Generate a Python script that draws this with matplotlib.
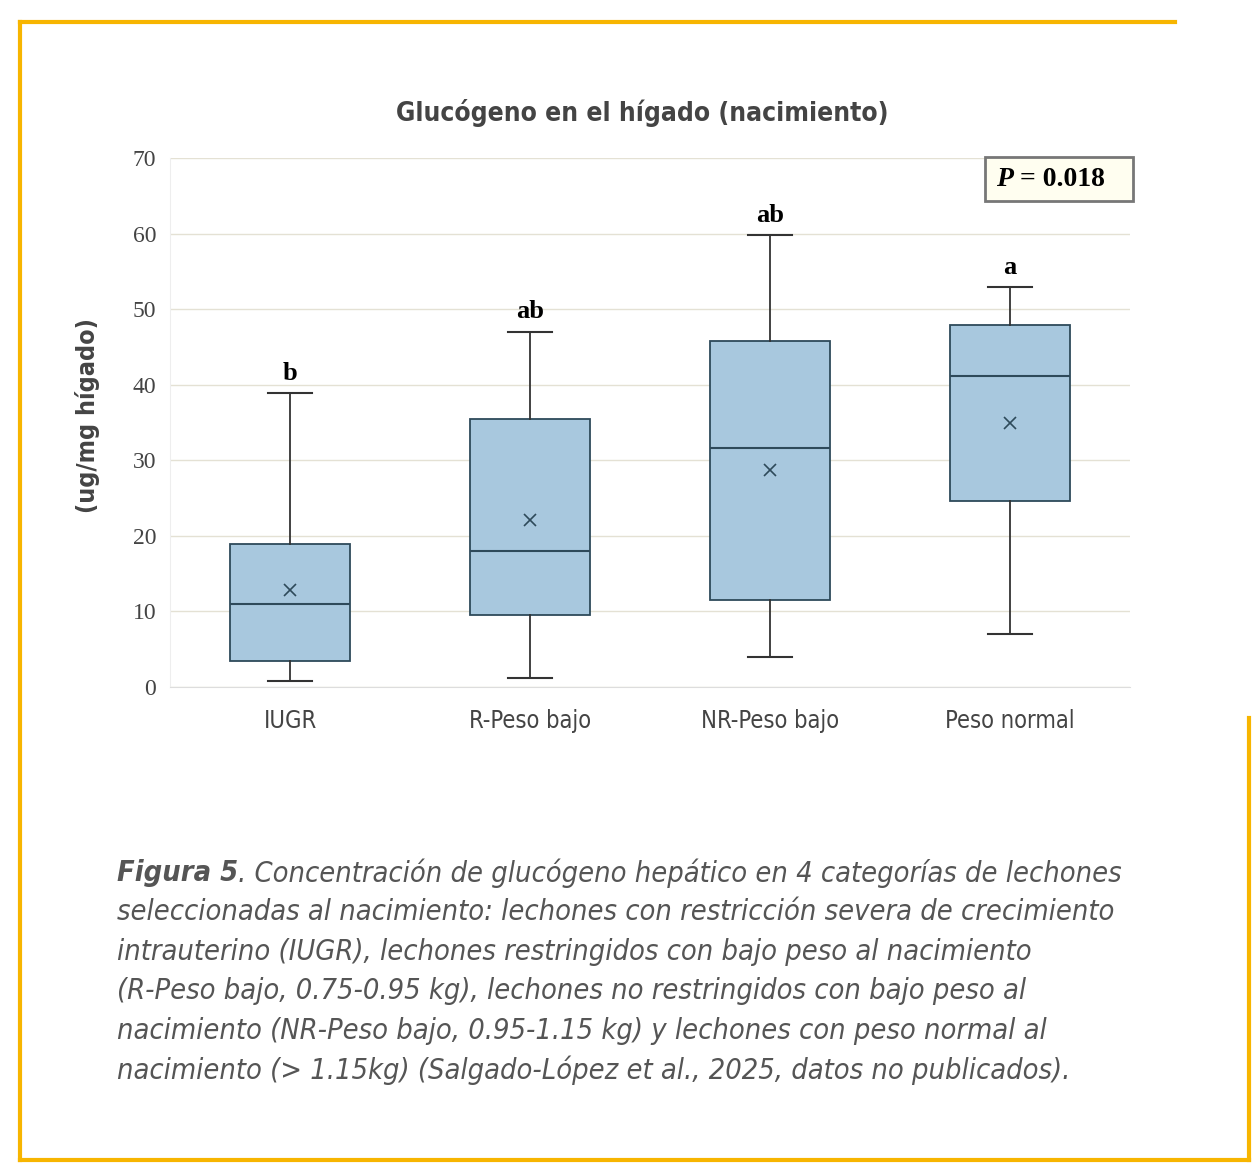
import matplotlib
matplotlib.use("Agg")
import matplotlib.pyplot as plt
from matplotlib import font_manager
from matplotlib.font_manager import FontProperties
from matplotlib.lines import Line2D
from matplotlib.patches import Rectangle

# Datos
categorias = ["IUGR", "R-Peso bajo", "NR-Peso bajo", "Peso normal"]
bigote_inf = [0.8, 1.2, 4.0, 7.0]
q1 = [3.4, 9.5, 11.5, 24.6]
mediana = [11.0, 18.0, 31.6, 41.2]
q3 = [18.9, 35.5, 45.8, 47.9]
bigote_sup = [38.9, 47.0, 59.8, 52.9]
media = [12.8, 22.1, 28.7, 34.9]
letras = ["b", "ab", "ab", "a"]
yticks = [0, 10, 20, 30, 40, 50, 60, 70]

titulo = "Glucógeno en el hígado (nacimiento)"
ylabel = "(ug/mg hígado)"
pie_negrita = "Figura 5"
pie_lineas = [
    ". Concentración de glucógeno hepático en 4 categorías de lechones",
    "seleccionadas al nacimiento: lechones con restricción severa de crecimiento",
    "intrauterino (IUGR), lechones restringidos con bajo peso al nacimiento",
    "(R-Peso bajo, 0.75-0.95 kg), lechones no restringidos con bajo peso al",
    "nacimiento (NR-Peso bajo, 0.95-1.15 kg) y lechones con peso normal al",
    "nacimiento (> 1.15kg) (Salgado-López et al., 2025, datos no publicados).",
]


def buscar_fuente(patrones, familia, **kw):
    """Devuelve FontProperties de un archivo condensado si existe."""
    archivos = [f.fname for f in font_manager.fontManager.ttflist]
    for p in patrones:
        for a in archivos:
            if a.endswith(p):
                return FontProperties(fname=a)
    return FontProperties(family=familia, **kw)


f_reg = buscar_fuente(["LiberationSansNarrow-Regular.ttf", "DejaVuSansCondensed.ttf"], "DejaVu Sans")
f_bold = buscar_fuente(["LiberationSansNarrow-Bold.ttf", "DejaVuSansCondensed-Bold.ttf"],
                       "DejaVu Sans", weight="bold")
f_ita = buscar_fuente(["LiberationSansNarrow-Italic.ttf", "DejaVuSansCondensed-Oblique.ttf"],
                      "DejaVu Sans", style="italic")
f_bita = buscar_fuente(["LiberationSansNarrow-BoldItalic.ttf", "DejaVuSansCondensed-BoldOblique.ttf"],
                       "DejaVu Sans", style="italic", weight="bold")
serif = "Liberation Serif"

W, H = 1260, 1163
fig = plt.figure(figsize=(W / 100, H / 100), dpi=100)
r = fig.canvas.get_renderer()


def con_tam(fp, tam):
    fp = fp.copy()
    fp.set_size(tam)
    return fp


# Marco amarillo
amarillo = "#F7B500"
for xs, ys in [([20, 1175], [22, 22]), ([20, 20], [22, 1160]),
               ([20, 1249], [1160, 1160]), ([1249, 1249], [718, 1160])]:
    fig.add_artist(Line2D([x / W for x in xs], [1 - y / H for y in ys],
                          color=amarillo, lw=3, transform=fig.transFigure))

ax = fig.add_axes([170 / W, 1 - 687 / H, 960 / W, 529 / H])

stats = []
for i in range(len(categorias)):
    stats.append(dict(whislo=bigote_inf[i], q1=q1[i], med=mediana[i], q3=q3[i],
                      whishi=bigote_sup[i], mean=media[i], fliers=[], label=categorias[i]))

borde = "#2E4A5A"
ax.bxp(stats, positions=range(len(categorias)), widths=0.5, patch_artist=True,
       showmeans=True, showfliers=False,
       boxprops=dict(facecolor="#A8C8DE", edgecolor=borde, linewidth=1.3),
       medianprops=dict(color=borde, linewidth=1.5),
       whiskerprops=dict(color="#333333", linewidth=1.3),
       capprops=dict(color="#333333", linewidth=1.5),
       meanprops=dict(marker="x", markeredgecolor=borde, markersize=8, markeredgewidth=1.2),
       capwidths=0.18)

ax.set_xlim(-0.5, 3.5)
ax.set_ylim(0, 70)
ax.set_yticks(yticks)
ax.yaxis.grid(True, color="#E4E1D4", lw=1)
ax.set_axisbelow(True)
for s in ["top", "right"]:
    ax.spines[s].set_visible(False)
ax.spines["left"].set_color("#EEEEEE")
ax.spines["bottom"].set_color("#DDDDDD")
ax.tick_params(length=0)
ax.tick_params(axis="y", pad=10, labelcolor="#444444")
ax.tick_params(axis="x", pad=16, labelcolor="#444444")
for t in ax.get_yticklabels():
    t.set_fontfamily(serif)
    t.set_fontsize(17)
ax.set_xticks(range(len(categorias)))
ax.set_xticklabels(categorias, fontproperties=con_tam(f_reg, 17))

# Letras de significancia
for i, l in enumerate(letras):
    ax.annotate(l, (i, bigote_sup[i]), xytext=(0, 6), textcoords="offset points",
                ha="center", va="bottom", fontfamily=serif, fontweight="bold", fontsize=19)

# Caja de P
fig.add_artist(Rectangle((985 / W, 1 - 201 / H), 148 / W, 44 / H, transform=fig.transFigure,
                         facecolor="#FFFEF0", edgecolor="#777777", lw=2))
tp = fig.text(996 / W, 1 - 180 / H, "P", ha="left", va="center", fontfamily=serif,
              fontweight="bold", fontstyle="italic", fontsize=20)
wp = tp.get_window_extent(renderer=r).width
fig.text((996 + wp) / W, 1 - 180 / H, " = 0.018", ha="left", va="center", fontfamily=serif,
         fontweight="bold", fontsize=20)

fig.text(642 / W, 1 - 113 / H, titulo, ha="center", va="center",
         fontproperties=con_tam(f_bold, 19), color="#444444")
fig.text(88 / W, 1 - 416 / H, ylabel, ha="center", va="center", rotation=90,
         fontproperties=con_tam(f_bold, 18), color="#444444")

# Pie de figura
gris = "#555555"
y0 = 873
paso = 39.4
fp_b = con_tam(f_bita, 20)
fp_i = con_tam(f_ita, 20)
tb = fig.text(0, 0, pie_negrita, fontproperties=fp_b)
ti = fig.text(0, 0, pie_lineas[0], fontproperties=fp_i)
w_tot = tb.get_window_extent(renderer=r).width + ti.get_window_extent(renderer=r).width
tb.remove()
ti.remove()
tam = 20 * 1006 / w_tot
fp_b.set_size(tam)
fp_i.set_size(tam)

tb = fig.text(117 / W, 1 - y0 / H, pie_negrita, ha="left", va="center",
              fontproperties=fp_b, color=gris)
ancho = tb.get_window_extent(renderer=r).width
for k, linea in enumerate(pie_lineas):
    x = 117 + (ancho if k == 0 else 0)
    fig.text(x / W, 1 - (y0 + k * paso) / H, linea, ha="left", va="center",
             fontproperties=fp_i, color=gris)

fig.savefig("out.png", dpi=100)
